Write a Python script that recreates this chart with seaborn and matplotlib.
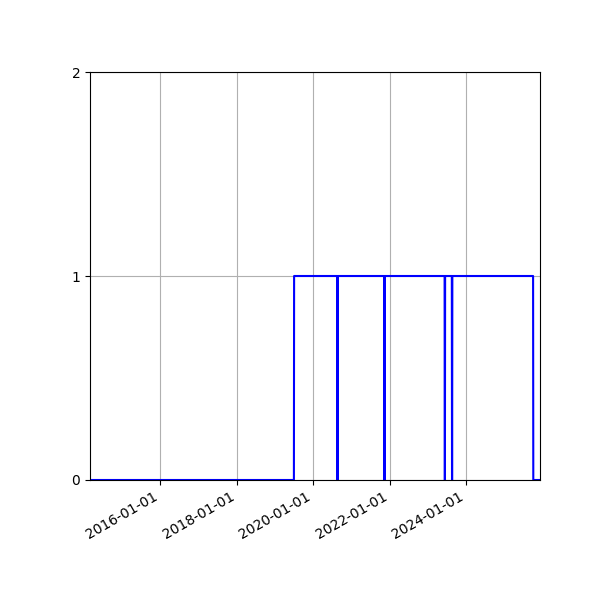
import pandas as pd
import matplotlib
matplotlib.use("Agg")
import matplotlib.pyplot as plt
import matplotlib.dates as mdates
import seaborn as sns

# state changes (date the value switches, new value)
change_dates = ["2014-03-01", "2019-07-01",
                "2020-08-18", "2020-08-20",
                "2021-11-10", "2021-11-12",
                "2023-06-09", "2023-06-12",
                "2023-08-17", "2023-08-20",
                "2025-10-01"]
change_values = [0, 1, 0, 1, 0, 1, 0, 1, 0, 1, 0]
end_date = "2025-12-05"

tick_dates = ["2016-01-01", "2018-01-01", "2020-01-01", "2022-01-01", "2024-01-01"]
y_ticks = [0, 1, 2]

# daily series built from the change points
steps = pd.Series(change_values, index=pd.to_datetime(change_dates))
days = pd.date_range(change_dates[0], end_date, freq="D")
daily = steps.reindex(days, method="ffill")
df = pd.DataFrame({"date": days, "value": daily.values})

fig, ax = plt.subplots(figsize=(6, 6), dpi=100)
fig.subplots_adjust(left=0.15, right=0.9, top=0.88, bottom=0.2)

sns.lineplot(data=df, x="date", y="value", color="b", linewidth=1.5, ax=ax)

ax.set_xlim(df["date"].iloc[0], df["date"].iloc[-1])
ax.set_ylim(0, 2)
ax.set_yticks(y_ticks)
ax.set_xticks(pd.to_datetime(tick_dates))
ax.xaxis.set_major_formatter(mdates.DateFormatter("%Y-%m-%d"))
ax.set_xlabel("")
ax.set_ylabel("")
ax.grid(True)
fig.autofmt_xdate()
fig.subplots_adjust(left=0.15, bottom=0.2)

fig.savefig("out.png", dpi=100)
